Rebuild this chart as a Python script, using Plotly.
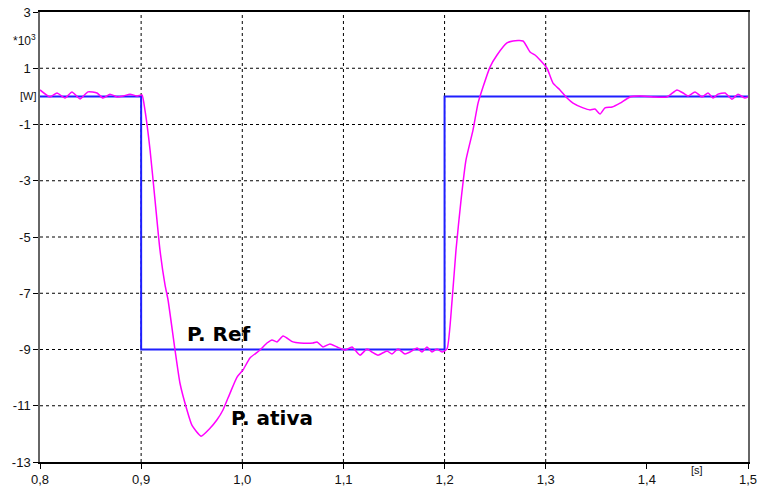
import plotly.graph_objects as go

# Reference power (x10^3 W)
ref_t = [0.8, 0.9, 0.9, 1.2, 1.2, 1.5]
ref_p = [0.0, 0.0, -9.0, -9.0, 0.0, 0.0]

# Active power (x10^3 W)
act_t = [0.800, 0.8099, 0.8168, 0.8247, 0.8316, 0.8395, 0.8475, 0.8564, 0.8623, 0.8692,
         0.8761, 0.8821, 0.8890, 0.8959, 0.9008, 0.9038, 0.9088, 0.9137, 0.9186, 0.9236,
         0.9266, 0.9335, 0.9384, 0.9453, 0.9503, 0.9592, 0.9681, 0.9750, 0.9809, 0.9879,
         0.9948, 1.0007, 1.0076, 1.0175, 1.0244, 1.0294, 1.0343, 1.0403, 1.0501, 1.0571,
         1.0699, 1.0739, 1.0798, 1.0867, 1.0937, 1.1016, 1.1085, 1.1164, 1.1233, 1.1283,
         1.1342, 1.1431, 1.1480, 1.1540, 1.1609, 1.1658, 1.1728, 1.1777, 1.1826, 1.1876,
         1.1925, 1.1975, 1.2024, 1.2074, 1.2113, 1.2163, 1.2212, 1.2281, 1.2331, 1.2380,
         1.2449, 1.2519, 1.2617, 1.2677, 1.2776, 1.2845, 1.2894, 1.2944, 1.3013, 1.3072,
         1.3141, 1.3211, 1.3270, 1.3369, 1.3438, 1.3487, 1.3537, 1.3586, 1.3656, 1.3735,
         1.3833, 1.3932, 1.4061, 1.4199, 1.4298, 1.4358, 1.4407, 1.4476, 1.4545, 1.4605,
         1.4654, 1.4704, 1.4773, 1.4842, 1.4901, 1.4970, 1.5000]
act_p = [0.23, -0.02, 0.12, -0.06, 0.16, -0.09, 0.16, 0.12, -0.06, 0.08,
         -0.02, 0.01, 0.08, 0.01, 0.05, -0.50, -1.90, -3.68, -5.46, -6.70,
         -7.24, -9.02, -10.20, -11.15, -11.70, -12.08, -11.80, -11.50, -11.15, -10.55,
         -9.98, -9.73, -9.30, -9.02, -8.77, -8.66, -8.73, -8.52, -8.73, -8.77,
         -8.77, -8.73, -8.91, -8.80, -8.91, -9.02, -8.91, -9.20, -8.98, -9.09,
         -9.20, -9.05, -9.16, -8.98, -9.16, -9.09, -8.95, -9.09, -8.91, -9.09,
         -8.98, -9.09, -8.98, -7.26, -5.46, -3.68, -2.26, -1.20, -0.24, 0.33,
         1.04, 1.47, 1.90, 1.97, 1.97, 1.58, 1.47, 1.29, 1.00, 0.47,
         0.23, -0.06, -0.24, -0.41, -0.48, -0.45, -0.63, -0.41, -0.38, -0.24,
         -0.02, 0.01, -0.02, -0.02, 0.23, 0.12, 0.01, 0.16, -0.02, 0.12,
         -0.06, 0.08, 0.12, -0.10, 0.08, -0.06, -0.02]

x_ticks = [0.8, 0.9, 1.0, 1.1, 1.2, 1.3, 1.4, 1.5]
x_labels = ["0,8", "0,9", "1,0", "1,1", "1,2", "1,3", "1,4", "1,5"]
y_ticks = [3, 1, -1, -3, -5, -7, -9, -11, -13]
y_labels = ["3", "1", "-1", "-3", "-5", "-7", "-9", "-11", "-13"]
x_grid = [0.9, 1.0, 1.1, 1.2, 1.3]
y_grid = [1, -1, -3, -5, -7, -9, -11]

fig = go.Figure()
fig.add_trace(go.Scatter(x=ref_t, y=ref_p, mode="lines",
                         line=dict(color="#1f1fff", width=2), showlegend=False))
fig.add_trace(go.Scatter(x=act_t, y=act_p, mode="lines",
                         line=dict(color="#ff00ff", width=1.5, shape="spline", smoothing=0.5),
                         showlegend=False))

shapes = []
for gx in x_grid:
    shapes.append(dict(type="line", xref="x", yref="paper", x0=gx, x1=gx, y0=0, y1=1,
                       line=dict(color="#000000", width=1, dash="dot"), layer="below"))
for gy in y_grid:
    shapes.append(dict(type="line", xref="paper", yref="y", x0=0, x1=1, y0=gy, y1=gy,
                       line=dict(color="#000000", width=1, dash="dot"), layer="below"))

font_tick = dict(family="Liberation Sans, Arial, sans-serif", size=13, color="#111111")
small_font = dict(family="Liberation Sans, Arial, sans-serif", size=11, color="#111111")
ann_font = dict(family="DejaVu Sans, sans-serif", size=20, color="#000000")

annotations = [
    dict(text="<b>P. Ref</b>", x=0.977, y=-8.45, xref="x", yref="y", showarrow=False,
         font=ann_font, xanchor="center", yanchor="middle"),
    dict(text="<b>P. ativa</b>", x=1.0294, y=-11.45, xref="x", yref="y", showarrow=False,
         font=ann_font, xanchor="center", yanchor="middle"),
    dict(text="*10<sup>3</sup>", x=0, y=2, xref="paper", yref="y", showarrow=False,
         xanchor="right", yanchor="middle", xshift=-2,
         font=dict(family="Liberation Sans, Arial, sans-serif", size=12, color="#111111")),
    dict(text="[W]", x=0, y=0, xref="paper", yref="y", showarrow=False,
         xanchor="right", yanchor="middle", xshift=-1, font=small_font),
    dict(text="[s]", x=1.4496, y=0, xref="x", yref="paper", showarrow=False,
         xanchor="center", yanchor="middle", yshift=-8, font=small_font),
]

fig.update_layout(
    width=760, height=491,
    margin=dict(l=40, r=12, t=12, b=29, pad=0),
    paper_bgcolor="white", plot_bgcolor="white",
    shapes=shapes, annotations=annotations,
    xaxis=dict(range=[0.8, 1.5], tickvals=x_ticks, ticktext=x_labels, showgrid=False,
               zeroline=False, showline=True, linecolor="#000000", linewidth=1.5, mirror=True,
               ticks="outside", ticklen=5, tickcolor="#000000", tickfont=font_tick,
               automargin=False),
    yaxis=dict(range=[-13, 3], tickvals=y_ticks, ticktext=y_labels, showgrid=False,
               zeroline=False, showline=True, linecolor="#666666", linewidth=1.5, mirror=True,
               ticks="outside", ticklen=5, tickcolor="#000000", tickfont=font_tick,
               automargin=False),
)

fig.write_html("out.html")
